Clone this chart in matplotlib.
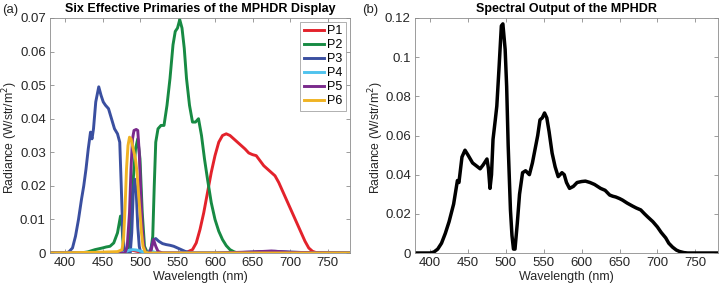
import matplotlib
matplotlib.use("Agg")
import matplotlib.pyplot as plt
from matplotlib.ticker import FuncFormatter, MultipleLocator

plt.rcParams['font.family'] = ['Liberation Sans', 'DejaVu Sans']

# ---- Panel (a) data: six effective primaries ----
p1_wl = [380, 470, 480, 490, 500, 510, 560, 570, 575, 580, 585, 590, 595, 600, 605, 610, 615, 620, 625, 630,
         635, 640, 645, 650, 655, 660, 665, 670, 675, 680, 685, 690, 695, 700, 705, 710, 715, 720, 725, 730,
         735, 740, 780]
p1_val = [0, 0, 0.0005, 0.0008, 0.0003, 0, 0, 0.001, 0.003, 0.007, 0.012, 0.018, 0.024, 0.029, 0.033, 0.035,
          0.0355, 0.035, 0.034, 0.033, 0.032, 0.031, 0.0298, 0.0293, 0.029, 0.0275, 0.026, 0.025, 0.024, 0.023,
          0.021, 0.0185, 0.016, 0.0135, 0.011, 0.0085, 0.006, 0.0035, 0.0015, 0.0005, 0.0001, 0, 0]

p2_wl = [380, 420, 430, 440, 450, 455, 460, 465, 470, 474, 476, 478, 481, 485, 488, 491, 494, 497, 500, 503,
         506, 510, 514, 517, 519, 521, 524, 528, 532, 536, 540, 544, 547, 550, 553, 556, 559, 562, 566, 570,
         574, 578, 582, 586, 590, 595, 600, 605, 610, 615, 620, 625, 630, 780]
p2_val = [0, 0, 0.0003, 0.001, 0.0015, 0.0018, 0.002, 0.003, 0.006, 0.011, 0.008, 0.001, 0, 0.002, 0.01,
          0.022, 0.031, 0.034, 0.028, 0.012, 0.002, 0, 0, 0.005, 0.02, 0.033, 0.037, 0.038, 0.038, 0.044, 0.052,
          0.062, 0.066, 0.067, 0.0695, 0.067, 0.061, 0.052, 0.044, 0.039, 0.039, 0.040, 0.035, 0.028, 0.022,
          0.015, 0.010, 0.0065, 0.004, 0.0022, 0.001, 0.0004, 0, 0]

p3_wl = [380, 400, 405, 410, 414, 418, 422, 425, 428, 431, 434, 436, 438, 441, 445, 448, 451, 454, 458, 462,
         466, 470, 473, 475, 477, 479, 481, 487, 489, 491, 493, 495, 497, 499, 501, 510, 514, 518, 521, 525,
         530, 535, 540, 545, 550, 555, 560, 565, 570, 600, 630, 660, 680, 700, 720, 740, 780]
p3_val = [0, 0, 0.0003, 0.0015, 0.005, 0.010, 0.016, 0.020, 0.025, 0.031, 0.036, 0.034, 0.037, 0.045, 0.0495,
          0.047, 0.045, 0.044, 0.043, 0.040, 0.037, 0.0355, 0.033, 0.02, 0.006, 0.001, 0, 0, 0.006, 0.018,
          0.022, 0.018, 0.008, 0.002, 0, 0, 0.001, 0.004, 0.0043, 0.0035, 0.0028, 0.0025, 0.0023, 0.002,
          0.0015, 0.001, 0.0005, 0.0002, 0, 0, 0.0001, 0.0004, 0.0005, 0.0003, 0.0001, 0, 0]

p4_wl = [380, 475, 480, 485, 490, 495, 500, 505, 510, 515, 520, 525, 780]
p4_val = [0, 0, 0.0003, 0.0008, 0.001, 0.0009, 0.0006, 0.0003, 0.0002, 0.0005, 0.0002, 0, 0]

p5_wl = [380, 480, 483, 486, 488, 490, 492, 495, 497, 499, 501, 503, 505, 508, 512, 515, 518, 521, 524, 530,
         600, 650, 675, 700, 780]
p5_val = [0, 0, 0.002, 0.012, 0.025, 0.034, 0.0365, 0.0368, 0.0365, 0.030, 0.018, 0.008, 0.002, 0, 0, 0.001,
          0.004, 0.002, 0.0005, 0, 0, 0.0003, 0.0006, 0.0002, 0]

p6_wl = [380, 440, 470, 476, 478, 480, 482, 484, 486, 488, 490, 492, 494, 496, 498, 500, 502, 504, 507, 510, 780]
p6_val = [0, 0.0002, 0.0004, 0.001, 0.004, 0.013, 0.025, 0.032, 0.0345, 0.034, 0.032, 0.030, 0.028, 0.024,
          0.018, 0.012, 0.006, 0.002, 0.0003, 0, 0]

primary_labels = ['P1', 'P2', 'P3', 'P4', 'P5', 'P6']
primary_colors = ['#e3222b', '#178a43', '#3a4fa0', '#4fc3ee', '#7a2a8c', '#f0b323']

# ---- Panel (b) data: total spectral output ----
tot_wl = [380, 400, 405, 410, 415, 420, 425, 431, 436, 438, 442, 446, 450, 456, 461, 466, 470, 475, 477, 479,
          481, 483, 486, 488, 491, 494, 496, 499, 501, 503, 506, 508, 510, 512, 515, 518, 522, 526, 531, 535,
          538, 542, 545, 548, 551, 554, 557, 561, 565, 569, 574, 577, 580, 584, 589, 594, 600, 605, 611, 617,
          625, 631, 637, 641, 645, 650, 654, 660, 667, 672, 678, 683, 687, 694, 700, 705, 711, 715, 720, 725,
          729, 735, 740, 780]
tot_val = [0, 0, 0.0005, 0.002, 0.005, 0.010, 0.016, 0.025, 0.037, 0.036, 0.049, 0.0525, 0.050, 0.046,
           0.0445, 0.043, 0.045, 0.048, 0.043, 0.033, 0.040, 0.058, 0.068, 0.075, 0.095, 0.116, 0.117, 0.104,
           0.085, 0.055, 0.022, 0.009, 0.002, 0.002, 0.015, 0.030, 0.041, 0.042, 0.040, 0.046, 0.052, 0.060,
           0.068, 0.069, 0.0715, 0.069, 0.062, 0.051, 0.044, 0.039, 0.041, 0.040, 0.036, 0.033, 0.034, 0.036,
           0.0365, 0.0367, 0.036, 0.035, 0.033, 0.032, 0.0296, 0.029, 0.0286, 0.0278, 0.027, 0.0255, 0.024,
           0.023, 0.022, 0.020, 0.0185, 0.016, 0.0133, 0.0105, 0.0077, 0.005, 0.003, 0.0015, 0.0008, 0.0002,
           0, 0]

x_ticks = [400, 450, 500, 550, 600, 650, 700, 750]

fig = plt.figure(figsize=(7.21, 2.90), dpi=100)
ax1 = fig.add_axes([50 / 721, 1 - 253 / 290, 300 / 721, 235 / 290])
ax2 = fig.add_axes([415 / 721, 1 - 253 / 290, 303 / 721, 235 / 290])

edge = '#8c8c8c'
txt = '#262626'
fmt = FuncFormatter(lambda v, p: '%g' % round(v, 6))

series = [(p1_wl, p1_val), (p2_wl, p2_val), (p3_wl, p3_val), (p4_wl, p4_val), (p5_wl, p5_val), (p6_wl, p6_val)]
for (wl, val), lab, col in zip(series, primary_labels, primary_colors):
    ax1.plot(wl, val, color=col, lw=2.1, label=lab, solid_joinstyle='round')

ax2.plot(tot_wl, tot_val, color='black', lw=2.5, solid_joinstyle='round')

for ax, ymax, ystep, labx in [(ax1, 0.07, 0.01, -0.10), (ax2, 0.12, 0.02, -0.096)]:
    ax.set_xlim(380, 780)
    ax.set_ylim(0, ymax)
    ax.set_xticks(x_ticks)
    ax.yaxis.set_major_locator(MultipleLocator(ystep))
    ax.yaxis.set_major_formatter(fmt)
    ax.tick_params(direction='in', length=3, width=0.6, colors=edge, labelcolor=txt, labelsize=9.5,
                   top=True, right=True, pad=3)
    for s in ax.spines.values():
        s.set_color(edge)
        s.set_linewidth(0.6)
    ax.set_xlabel('Wavelength (nm)', fontsize=9, color=txt, labelpad=1)
    ax.set_ylabel('Radiance (W/str/m$^2$)', fontsize=8.8, color=txt)
    ax.yaxis.set_label_coords(labx, 0.49)

ax1.set_title('Six Effective Primaries of the MPHDR Display', fontsize=9, fontweight='bold', pad=4)
ax2.set_title('Spectral Output of the MPHDR', fontsize=9, fontweight='bold', pad=4)

leg = ax1.legend(loc='upper right', fontsize=9, frameon=True, fancybox=False, handlelength=1.6,
                 handletextpad=0.25, labelspacing=0.15, borderpad=0.3, borderaxespad=0.3)
leg.get_frame().set_edgecolor(edge)
leg.get_frame().set_linewidth(0.6)

fig.text(2 / 721, 1 - 10 / 290, '(a)', fontsize=9.5, va='center', ha='left', color=txt)
fig.text(362 / 721, 1 - 10 / 290, '(b)', fontsize=9.5, va='center', ha='left', color=txt)

fig.savefig('out.png', dpi=100)
